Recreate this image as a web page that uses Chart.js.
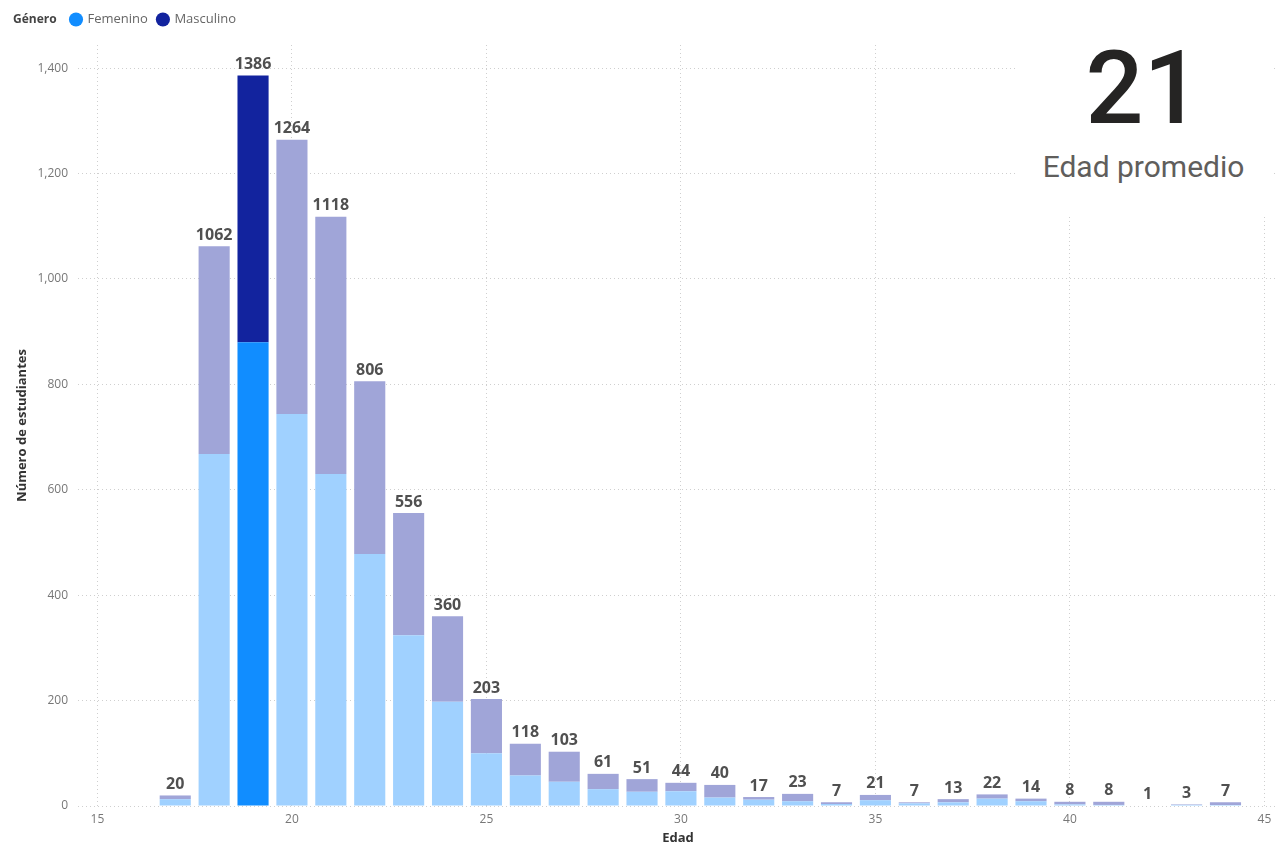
<!DOCTYPE html>
<html lang="es">
<head>
<meta charset="utf-8">
<title>Estudiantes por edad</title>
<script src="https://cdn.jsdelivr.net/npm/chart.js@4/dist/chart.umd.min.js"></script>
<style>
  html, body { margin: 0; padding: 0; background: #fff; }
  #wrap { position: relative; width: 1283px; height: 848px; }
  #card {
    position: absolute; left: 1015px; top: 28px; width: 257px; height: 186px;
    background: #fff; text-align: center; font-family: Roboto, "Open Sans", sans-serif;
  }
  #card .valor { font-size: 102px; font-weight: 500; line-height: 1; color: #252423; margin-top: 9px; }
  #card .desc { font-size: 30px; color: #605e5c; margin-top: 10px; }
</style>
</head>
<body>
<div id="wrap">
  <canvas id="edadChart" width="1283" height="848"></canvas>
  <div id="card">
    <div class="valor">21</div>
    <div class="desc">Edad promedio</div>
  </div>
</div>
<script>
// estudiantes por edad, separados por género
let edades = [17, 18, 19, 20, 21, 22, 23, 24, 25, 26, 27, 28, 29, 30, 31, 32, 33, 34, 35, 36, 37, 38, 39, 40, 41, 42, 43, 44]
let femenino = [13, 668, 880, 744, 630, 478, 324, 198, 100, 58, 46, 32, 27, 28, 16, 12, 9, 4, 11, 5, 7, 14, 9, 3, 2, 1, 2, 2]
let masculino = [7, 394, 506, 520, 488, 328, 232, 162, 103, 60, 57, 29, 24, 16, 24, 5, 14, 3, 10, 2, 6, 8, 5, 5, 6, 0, 1, 5]
let ticksEdad = [15, 20, 25, 30, 35, 40, 45]
let ticksEstudiantes = [0, 200, 400, 600, 800, 1000, 1200, 1400]
let edadResaltada = 19

const FUENTE = "'Open Sans', sans-serif"
const SUBIR_LEYENDA = 9

function colorBarra(normal, tenue) {
    return function (ctx) {
        let punto = ctx.raw
        if (!punto) return normal
        return punto.x === edadResaltada ? normal : tenue
    }
}

// totales encima de cada columna
const totales = {
    id: "totales",
    afterDatasetsDraw(chart) {
        let ctx = chart.ctx
        let arriba = chart.getDatasetMeta(1)
        ctx.save()
        ctx.font = "bold 16px " + FUENTE
        ctx.fillStyle = "#505050"
        ctx.textAlign = "center"
        ctx.textBaseline = "bottom"
        edades.forEach(function (e, i) {
            let barra = arriba.data[i]
            let total = femenino[i] + masculino[i]
            ctx.fillText(String(total), barra.x, barra.y - 3)
        })
        ctx.restore()
    }
}

// titulo "Género" a la izquierda de la leyenda, que va en la misma fila
const tituloLeyenda = {
    id: "tituloLeyenda",
    afterLayout(chart) {
        let leyenda = chart.legend
        leyenda.left = 61
        leyenda.top -= SUBIR_LEYENDA
        leyenda.bottom -= SUBIR_LEYENDA
    },
    afterDraw(chart) {
        let ctx = chart.ctx
        let caja = chart.legend.legendHitBoxes[0]
        ctx.save()
        ctx.font = "bold 12px " + FUENTE
        ctx.fillStyle = "#444"
        ctx.textBaseline = "middle"
        ctx.fillText("Género", 13, caja.top + caja.height / 2)
        ctx.restore()
    }
}

let CHART = document.getElementById("edadChart")
let edadChart = new Chart(CHART, {
    type: "bar",
    data: {
        datasets: [
            {
                label: "Femenino",
                data: edades.map((e, i) => ({ x: e, y: femenino[i] })),
                backgroundColor: colorBarra("#118DFF", "#A0D1FF"),
                borderWidth: 0,
                barPercentage: 0.8,
                categoryPercentage: 1.0
            },
            {
                label: "Masculino",
                data: edades.map((e, i) => ({ x: e, y: masculino[i] })),
                backgroundColor: colorBarra("#12239E", "#A0A5D8"),
                borderWidth: 0,
                barPercentage: 0.8,
                categoryPercentage: 1.0
            }
        ]
    },
    options: {
        responsive: false,
        animation: false,
        layout: { padding: { left: 0, right: 5, top: 12, bottom: 0 } },
        plugins: {
            tooltip: { enabled: false },
            legend: {
                position: "top",
                align: "start",
                labels: {
                    usePointStyle: true,
                    pointStyle: "circle",
                    boxWidth: 10,
                    boxHeight: 10,
                    padding: 10,
                    color: "#666",
                    font: { family: FUENTE, size: 13 },
                    generateLabels(chart) {
                        return chart.data.datasets.map((ds, i) => ({
                            text: ds.label,
                            fillStyle: i === 0 ? "#118DFF" : "#12239E",
                            strokeStyle: i === 0 ? "#118DFF" : "#12239E",
                            lineWidth: 0,
                            pointStyle: "circle",
                            datasetIndex: i,
                            fontColor: "#666"
                        }))
                    }
                }
            }
        },
        scales: {
            x: {
                type: "linear",
                stacked: true,
                offset: false,
                min: 14.5,
                max: 45.35,
                afterBuildTicks(scale) {
                    scale.ticks = ticksEdad.map(v => ({ value: v }))
                },
                afterFit(scale) { scale.height = 42 },
                grid: { color: "#cfcfcf", drawTicks: false, offset: false },
                border: { display: false, dash: [1, 3] },
                ticks: {
                    color: "#777",
                    font: { family: FUENTE, size: 12 },
                    padding: 6,
                    callback: v => String(v)
                },
                title: {
                    display: true,
                    text: "Edad",
                    color: "#333",
                    font: { family: FUENTE, size: 13, weight: "bold" },
                    padding: { top: 0, bottom: 2 }
                }
            },
            y: {
                stacked: true,
                min: 0,
                max: 1444,
                afterBuildTicks(scale) {
                    scale.ticks = ticksEstudiantes.map(v => ({ value: v }))
                },
                afterFit(scale) { scale.width = 78 },
                grid: { color: "#cfcfcf", drawTicks: false },
                border: { display: false, dash: [1, 3] },
                ticks: {
                    color: "#777",
                    font: { family: FUENTE, size: 12 },
                    padding: 10,
                    callback: v => v.toLocaleString("en-US")
                },
                title: {
                    display: true,
                    text: "Número de estudiantes",
                    color: "#333",
                    font: { family: FUENTE, size: 13, weight: "bold" },
                    padding: { top: 14, bottom: 0 }
                }
            }
        }
    },
    plugins: [totales, tituloLeyenda]
})
</script>
</body>
</html>
